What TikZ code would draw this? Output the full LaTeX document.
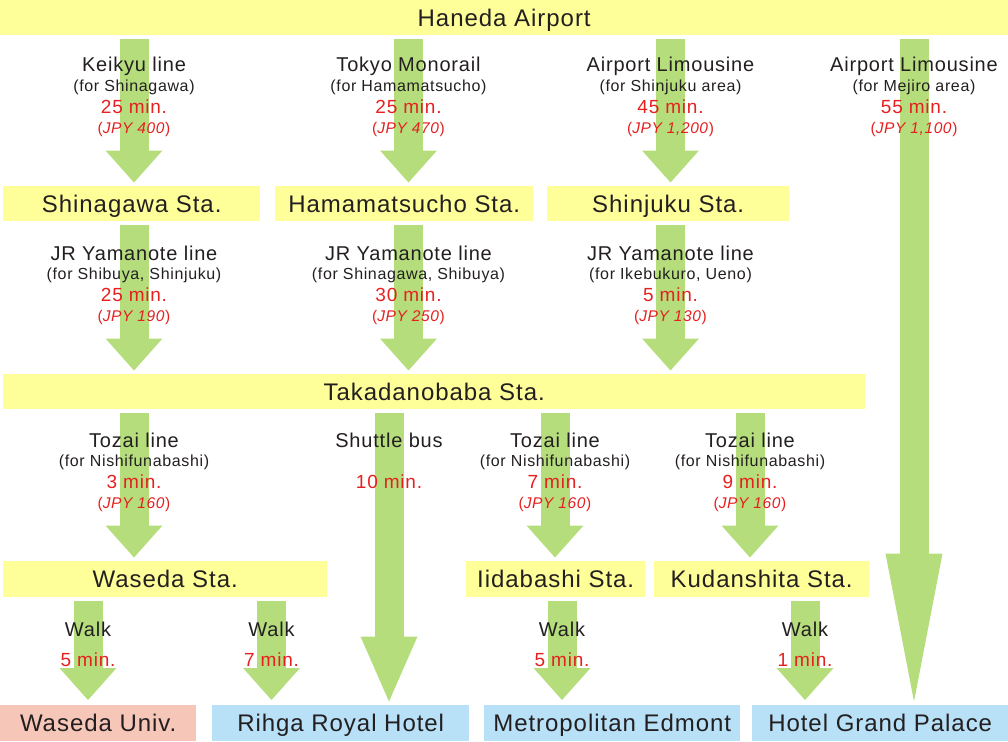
\documentclass[tikz,border=0pt]{standalone}
\usepackage{fontspec}
\setmainfont{Liberation Sans}[LetterSpace=4]
\usetikzlibrary{arrows.meta}
\definecolor{ylw}{HTML}{FFFF99}
\definecolor{grn}{HTML}{B5DD7C}
\definecolor{pnk}{HTML}{F6C7B9}
\definecolor{blu}{HTML}{B8E0F7}
\definecolor{rd}{HTML}{E5201F}
\definecolor{txt}{HTML}{231F20}
\newcommand\routelbl[7]{%
  \node[lname] (#1a) at (#2,#3+34) {#4};
  \node[lfor]  (#1b) at (#2,#3+53.5) {#5};
  \node[lmin]  (#1c) at (#2,#3+75.5) {#6};
  \node[ljpy]  (#1d) at (#2,#3+95) {(\textit{#7})};
}
\begin{document}
\begin{tikzpicture}[x=1pt,y=-1pt,
  box/.style={fill=#1, inner sep=0pt, anchor=north west, text height=17.3pt, text depth=0pt,
    font=\fontsize{24}{28}\selectfont, text=txt},
  arr/.style={draw=grn, line width=29pt, line cap=butt, shorten <=3.5pt, shorten >=3.5pt,
    -{Triangle[width=57pt,length=#1,line width=0pt]}},
  arr/.default=32pt,
  lname/.style={font=\fontsize{20}{24}\selectfont, text=txt, anchor=base, inner sep=0pt},
  lfor/.style={font=\fontsize{16}{19}\selectfont, text=txt, anchor=base, inner sep=0pt},
  lmin/.style={font=\fontsize{19}{23}\selectfont, text=rd, anchor=base, inner sep=0pt},
  ljpy/.style={font=\fontsize{15.5}{18}\selectfont, text=rd, anchor=base, inner sep=0pt}]
\useasboundingbox (0,0) rectangle (1008,741);
% boxes
\node[box=ylw, minimum width=1008pt, minimum height=35pt] (hnd) at (0,0) {Haneda Airport};
\node[box=ylw, minimum width=257pt, minimum height=35pt] (shg) at (3,186) {Shinagawa Sta.};
\node[box=ylw, minimum width=258pt, minimum height=35pt] (hmm) at (275,186) {Hamamatsucho Sta.};
\node[box=ylw, minimum width=242pt, minimum height=35pt] (snj) at (547,186) {Shinjuku Sta.};
\node[box=ylw, minimum width=862pt, minimum height=35pt] (tkd) at (3,374) {Takadanobaba Sta.};
\node[box=ylw, minimum width=324pt, minimum height=36pt] (wsd) at (3,561) {Waseda Sta.};
\node[box=ylw, minimum width=179pt, minimum height=36pt] (idb) at (466,561) {Iidabashi Sta.};
\node[box=ylw, minimum width=215pt, minimum height=36pt] (kdn) at (654,561) {Kudanshita Sta.};
\node[box=pnk, minimum width=196pt, minimum height=36pt] (wun) at (0,705) {Waseda Univ.};
\node[box=blu, minimum width=257pt, minimum height=36pt] (rhg) at (212,705) {Rihga Royal Hotel};
\node[box=blu, minimum width=256pt, minimum height=36pt] (mtr) at (484,705) {Metropolitan Edmont};
\node[box=blu, minimum width=256pt, minimum height=36pt] (hgp) at (752,705) {Hotel Grand Palace};
% column positions
\coordinate (a1) at (134,0);
\coordinate (a2) at (408.5,0);
\coordinate (a3) at (670.5,0);
\coordinate (a4) at (914,0);
\coordinate (b3) at (389,0);
\coordinate (b4) at (555,0);
\coordinate (b5) at (750,0);
\coordinate (w1) at (88,0);
\coordinate (w2) at (271.5,0);
\coordinate (w3) at (562,0);
\coordinate (w4) at (805,0);
% arrows
\draw[arr] (hnd.south -| a1) -- (shg.north -| a1);
\draw[arr] (hnd.south -| a2) -- (hmm.north -| a2);
\draw[arr] (hnd.south -| a3) -- (snj.north -| a3);
\draw[arr=148pt] (hnd.south -| a4) -- (hgp.north -| a4);
\draw[arr] (shg.south -| a1) -- (tkd.north -| a1);
\draw[arr] (hmm.south -| a2) -- (tkd.north -| a2);
\draw[arr] (snj.south -| a3) -- (tkd.north -| a3);
\draw[arr] (tkd.south -| a1) -- (wsd.north -| a1);
\draw[arr=65pt] (tkd.south -| b3) -- (rhg.north -| b3);
\draw[arr] (tkd.south -| b4) -- (idb.north -| b4);
\draw[arr] (tkd.south -| b5) -- (kdn.north -| b5);
\draw[arr, shorten >=5pt] (wsd.south -| w1) -- (wun.north -| w1);
\draw[arr, shorten >=5pt] (wsd.south -| w2) -- (rhg.north -| w2);
\draw[arr, shorten >=5pt] (idb.south -| w3) -- (mtr.north -| w3);
\draw[arr, shorten >=5pt] (kdn.south -| w4) -- (hgp.north -| w4);
% labels
\routelbl{k}{134}{38}{Keikyu line}{(for Shinagawa)}{25 min.}{JPY 400}
\routelbl{m}{408.5}{38}{Tokyo Monorail}{(for Hamamatsucho)}{25 min.}{JPY 470}
\routelbl{l}{670.5}{38}{Airport Limousine}{(for Shinjuku area)}{45 min.}{JPY 1,200}
\routelbl{j}{914}{38}{Airport Limousine}{(for Mejiro area)}{55 min.}{JPY 1,100}
\routelbl{ya}{134}{226}{JR Yamanote line}{(for Shibuya, Shinjuku)}{25 min.}{JPY 190}
\routelbl{yb}{408.5}{226}{JR Yamanote line}{(for Shinagawa, Shibuya)}{30 min.}{JPY 250}
\routelbl{yc}{670.5}{226}{JR Yamanote line}{(for Ikebukuro, Ueno)}{5 min.}{JPY 130}
\routelbl{ta}{134}{413}{Tozai line}{(for Nishifunabashi)}{3 min.}{JPY 160}
\routelbl{tb}{555}{413}{Tozai line}{(for Nishifunabashi)}{7 min.}{JPY 160}
\routelbl{tc}{750}{413}{Tozai line}{(for Nishifunabashi)}{9 min.}{JPY 160}
\node[lname] (sba) at (389,447) {Shuttle bus};
\node[lmin]  (sbc) at (389,488.5) {10 min.};
\node[lname] (wka) at (88,636) {Walk};
\node[lmin]  (wkc) at (88,666) {5 min.};
\node[lname] (wla) at (271.5,636) {Walk};
\node[lmin]  (wlc) at (271.5,666) {7 min.};
\node[lname] (wma) at (562,636) {Walk};
\node[lmin]  (wmc) at (562,666) {5 min.};
\node[lname] (wna) at (805,636) {Walk};
\node[lmin]  (wnc) at (805,666) {1 min.};
\end{tikzpicture}
\end{document}
